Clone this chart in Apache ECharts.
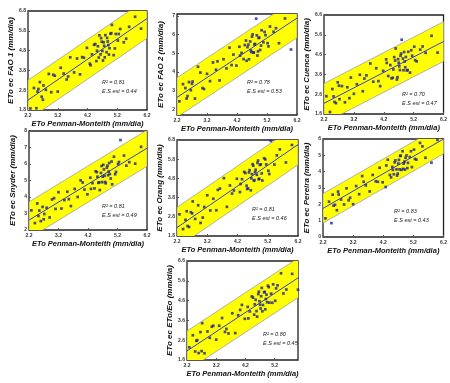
<!DOCTYPE html>
<html>
<head>
<meta charset="utf-8">
<script src="https://cdn.jsdelivr.net/npm/echarts@6/dist/echarts.min.js"></script>
<style>
html, body { margin: 0; padding: 0; background: #fff; }
#chart { width: 450px; height: 383px; }
</style>
</head>
<body>
<div id="chart"></div>
<script>
// ETo Penman-Monteith (x, shared by every panel)
const etoPM = [2.28, 2.4, 2.48, 2.52, 2.6, 2.66, 2.72, 2.8, 2.9, 2.98, 3.1, 3.2, 3.3, 3.4, 3.5, 3.62, 3.75, 3.85, 3.95, 4.08, 4.18, 4.28, 4.35, 4.42, 4.5, 4.55, 4.6, 4.64, 4.68, 4.72, 4.76, 4.8, 4.84, 4.88, 4.92, 4.97, 5.02, 5.08, 5.15, 5.22, 5.3, 5.42, 5.6, 5.8, 6.0,
    2.55, 2.7, 3.05, 3.55, 4.02, 4.3, 4.46, 4.52, 4.58, 4.66, 4.7, 4.74, 4.78, 4.86, 4.9, 4.94, 5.0, 5.12, 5.25, 5.5];

// ETo from each empirical equation (y)
const fao1 = [1.88, 2.91, 1.89, 2.73, 3.21, 2.47, 3.04, 2.82, 3.62, 2.70, 3.53, 2.73, 3.93, 3.64, 3.34, 4.46, 3.70, 4.40, 3.60, 4.44, 4.94, 4.14, 4.61, 5.09, 4.27, 5.02, 5.57, 4.61, 5.25, 4.30, 5.04, 5.58, 4.72, 5.26, 4.60, 5.65, 6.10, 4.57, 5.64, 5.31, 5.89, 5.22, 6.00, 6.51, 5.91,
    2.86, 2.32, 3.58, 3.49, 4.47, 4.06, 5.13, 4.79, 4.45, 5.43, 4.78, 5.22, 4.46, 5.44, 5.08, 4.92, 5.68, 4.91, 5.64, 5.40];
const fao2 = [2.43, 3.35, 3.14, 2.58, 3.46, 3.03, 3.49, 2.58, 4.28, 3.97, 3.09, 3.90, 3.51, 4.51, 4.12, 3.55, 4.68, 4.19, 5.30, 4.93, 4.34, 5.35, 5.02, 4.69, 5.68, 5.33, 4.68, 5.63, 5.07, 6.01, 5.05, 5.50, 6.85, 4.88, 5.82, 5.18, 6.23, 5.59, 5.97, 5.54, 6.43, 6.15, 5.54, 6.86, 5.20,
    2.71, 3.37, 3.14, 4.57, 4.37, 4.87, 5.44, 4.60, 5.46, 5.15, 5.89, 5.03, 5.47, 5.96, 5.10, 5.84, 5.41, 6.14, 5.37, 6.34];
const cuenca = [2.50, 1.70, 2.86, 2.49, 2.15, 3.20, 2.35, 3.01, 2.19, 2.95, 3.44, 2.62, 3.10, 3.58, 2.75, 3.55, 4.15, 3.23, 3.91, 3.01, 3.78, 4.36, 3.52, 4.07, 3.43, 4.47, 4.91, 3.34, 4.37, 4.01, 4.54, 5.35, 4.40, 4.73, 3.96, 3.80, 4.74, 3.69, 4.54, 5.00, 4.26, 4.85, 4.69, 5.55, 4.70,
    2.21, 3.03, 2.40, 3.39, 3.26, 4.18, 3.40, 3.85, 4.30, 3.46, 4.19, 3.82, 4.65, 3.81, 4.25, 4.48, 3.82, 4.82, 4.32, 5.01];
const snyder = [3.19, 2.42, 3.61, 2.85, 2.54, 3.40, 2.97, 3.35, 2.76, 3.85, 3.28, 4.29, 3.30, 3.81, 4.32, 3.45, 4.49, 4.00, 5.01, 4.45, 4.16, 5.17, 4.84, 4.52, 5.51, 4.86, 4.42, 5.46, 4.90, 5.95, 5.29, 4.83, 5.78, 5.32, 6.06, 5.12, 4.77, 6.44, 5.52, 5.99, 7.45, 6.51, 6.11, 6.02, 7.04,
    3.18, 2.65, 3.93, 3.87, 4.88, 4.49, 5.56, 5.23, 4.89, 5.88, 5.23, 5.67, 4.91, 5.90, 5.54, 5.39, 6.15, 5.38, 6.12, 5.90];
const orang = [2.93, 2.16, 2.64, 3.09, 2.27, 3.04, 3.60, 2.69, 3.40, 2.48, 3.31, 3.92, 3.13, 3.74, 3.14, 4.27, 4.81, 3.32, 4.43, 4.17, 4.78, 4.09, 4.76, 5.14, 4.42, 4.28, 5.23, 4.18, 5.02, 5.46, 4.71, 5.25, 4.99, 5.73, 4.78, 5.53, 4.69, 5.85, 5.53, 5.20, 6.75, 5.52, 6.31, 5.63, 6.54,
    2.32, 2.98, 2.76, 4.20, 4.01, 4.51, 5.08, 4.25, 5.11, 4.80, 5.54, 4.68, 5.13, 5.61, 4.76, 5.50, 5.06, 5.79, 5.03, 6.00];
const pereira = [1.14, 2.16, 0.85, 2.59, 1.97, 1.64, 2.60, 2.29, 1.99, 2.98, 2.40, 2.01, 3.12, 2.62, 3.73, 3.16, 2.79, 3.80, 3.41, 4.24, 3.35, 3.06, 4.73, 3.80, 4.29, 3.84, 4.69, 4.14, 3.88, 4.72, 4.96, 4.11, 5.25, 4.49, 4.13, 4.99, 4.54, 4.90, 4.28, 5.35, 4.74, 5.76, 4.85, 4.55, 5.95,
    1.92, 2.78, 2.25, 3.38, 3.38, 4.38, 3.65, 4.11, 4.57, 3.76, 4.50, 4.14, 4.98, 4.17, 4.61, 4.85, 4.22, 5.25, 4.78, 5.55];
const etoEo = [2.24, 2.85, 2.03, 2.57, 1.95, 3.01, 3.46, 1.94, 3.04, 2.72, 3.33, 2.63, 3.33, 3.72, 3.02, 2.94, 3.96, 2.96, 3.86, 4.38, 3.68, 4.28, 4.05, 4.81, 3.89, 4.64, 3.79, 4.93, 4.57, 4.20, 5.24, 4.38, 5.02, 4.16, 4.90, 5.35, 4.50, 4.95, 5.42, 4.59, 5.37, 5.98, 5.16, 5.95, 5.15,
    2.60, 2.05, 3.28, 3.17, 4.13, 3.70, 4.75, 4.41, 4.07, 5.05, 4.39, 4.82, 4.06, 5.04, 4.68, 4.52, 5.28, 4.49, 5.22, 4.96];

const panelNames = ['ETo ec FAO 1 (mm/dia)', 'ETo ec FAO 2 (mm/dia)', 'ETo ec Cuenca (mm/dia)', 'ETo ec Snyder (mm/dia)', 'ETo ec Orang (mm/dia)', 'ETo ec Pereira (mm/dia)', 'ETo ec ETo/Eo (mm/dia)'];
const panelValues = [fao1, fao2, cuenca, snyder, orang, pereira, etoEo];

// regression line at x = 2.2 and x = 6.2, and half width of the yellow band
const fitStartY = [2.3, 2.64, 2.14, 2.6, 2.24, 1.75, 2.06];
const fitEndY = [6.42, 6.88, 5.26, 6.96, 6.56, 6.0, 5.94];
const bandHalf = [1.0, 1.05, 1.0, 1.1, 1.05, 0.9, 1.0];
const r2Values = ['0.81', '0.78', '0.70', '0.81', '0.81', '0.83', '0.80'];
const seValues = ['0.44', '0.53', '0.47', '0.49', '0.46', '0.43', '0.45'];

// axis ranges and tick labels
const xMax = [6.2, 6.2, 6.2, 6.2, 6.2, 6.2, 6.0];
const xTicks = [2.2, 3.2, 4.2, 5.2, 6.2];
const yMin = [1.8, 1.7, 1.6, 2, 1.8, 0, 1.6];
const yMax = [6.8, 7.1, 6.6, 8, 6.8, 6, 6.6];
const yTicks = [
    [1.8, 2.8, 3.8, 4.8, 5.8, 6.8],
    [2, 3, 4, 5, 6, 7],
    [1.6, 2.6, 3.6, 4.6, 5.6, 6.6],
    [2, 3, 4, 5, 6, 7, 8],
    [1.8, 2.8, 3.8, 4.8, 5.8, 6.8],
    [0, 1, 2, 3, 4, 5, 6],
    [1.6, 2.6, 3.6, 4.6, 5.6, 6.6]
];

// layout: [left, top, width, height] of each plot frame
const boxes = [[28, 11, 119, 99], [177, 14, 120, 101], [324, 15, 120, 99], [29, 131, 118, 99], [177, 140, 121, 96], [323, 139, 122, 98], [187, 261, 111, 99]];
const statPos = [[102, 83], [247, 83], [402, 95], [102, 207], [252, 210], [394, 212], [263, 335]];

const nameFont = { fontFamily: 'Liberation Sans', fontWeight: 'bold', fontStyle: 'italic', color: '#111' };
const tickFont = { fontFamily: 'Liberation Sans', fontWeight: 'bold', fontSize: 5, color: '#333' };

const grids = [], xAxes = [], yAxes = [], series = [], graphics = [];

boxes.forEach((b, i) => {
    grids.push({ left: b[0], top: b[1], width: b[2], height: b[3], show: true, borderColor: '#222', borderWidth: 1.3, backgroundColor: '#fff' });
    xAxes.push({
        type: 'value', gridIndex: i, min: 2.2, max: xMax[i],
        name: 'ETo Penman-Monteith (mm/dia)', nameLocation: 'middle', nameGap: 10,
        nameTextStyle: Object.assign({ fontSize: 7.5 }, nameFont),
        axisLine: { show: false }, splitLine: { show: false },
        axisTick: { inside: true, length: 2, customValues: xTicks.filter(v => v <= xMax[i]), lineStyle: { color: '#555' } },
        axisLabel: Object.assign({ margin: 3, customValues: xTicks.filter(v => v <= xMax[i]), formatter: v => v.toFixed(1) }, tickFont)
    });
    yAxes.push({
        type: 'value', gridIndex: i, min: yMin[i], max: yMax[i],
        name: panelNames[i], nameLocation: 'middle', nameGap: 12,
        nameTextStyle: Object.assign({ fontSize: 8 }, nameFont),
        axisLine: { show: false }, splitLine: { show: false },
        axisTick: { inside: true, length: 2, customValues: yTicks[i], lineStyle: { color: '#555' } },
        axisLabel: Object.assign({ margin: 2, customValues: yTicks[i], formatter: v => (yTicks[i].some(t => t % 1 !== 0) ? v.toFixed(1) : String(v)) }, tickFont)
    });

    // yellow prediction band
    series.push({
        type: 'custom', xAxisIndex: i, yAxisIndex: i, clip: true, silent: true, z: 1,
        data: [[0]],
        renderItem: function (params, api) {
            const p1 = api.coord([2.2, fitStartY[i] - bandHalf[i]]);
            const p2 = api.coord([6.2, fitEndY[i] - bandHalf[i]]);
            const p3 = api.coord([6.2, fitEndY[i] + bandHalf[i]]);
            const p4 = api.coord([2.2, fitStartY[i] + bandHalf[i]]);
            return {
                type: 'polygon',
                shape: { points: [p1, p2, p3, p4] },
                style: { fill: '#ffff00', stroke: '#a0a0a0', lineWidth: 0.8 }
            };
        }
    });
    // regression line
    series.push({
        type: 'line', xAxisIndex: i, yAxisIndex: i, showSymbol: false, silent: true, z: 3,
        data: [[2.2, fitStartY[i]], [6.2, fitEndY[i]]],
        lineStyle: { color: '#2f3fd0', width: 1 }
    });
    // observations
    series.push({
        type: 'scatter', xAxisIndex: i, yAxisIndex: i, symbol: 'rect', symbolSize: 2.7, z: 4,
        data: etoPM.map((x, k) => [x, panelValues[i][k]]),
        itemStyle: { color: '#1f1f9c' }
    });

    graphics.push({
        type: 'text', left: statPos[i][0], top: statPos[i][1] - 4,
        style: { text: 'R² = ' + r2Values[i], fontFamily: 'Liberation Sans', fontStyle: 'italic', fontSize: 5.5, fill: '#222' }
    });
    graphics.push({
        type: 'text', left: statPos[i][0], top: statPos[i][1] + 5,
        style: { text: 'E.S est = ' + seValues[i], fontFamily: 'Liberation Sans', fontStyle: 'italic', fontSize: 5.5, fill: '#222' }
    });
});

const chart = echarts.init(document.getElementById('chart'));
chart.setOption({
    backgroundColor: '#fff',
    animation: false,
    grid: grids,
    xAxis: xAxes,
    yAxis: yAxes,
    series: series,
    graphic: graphics
});
</script>
</body>
</html>
